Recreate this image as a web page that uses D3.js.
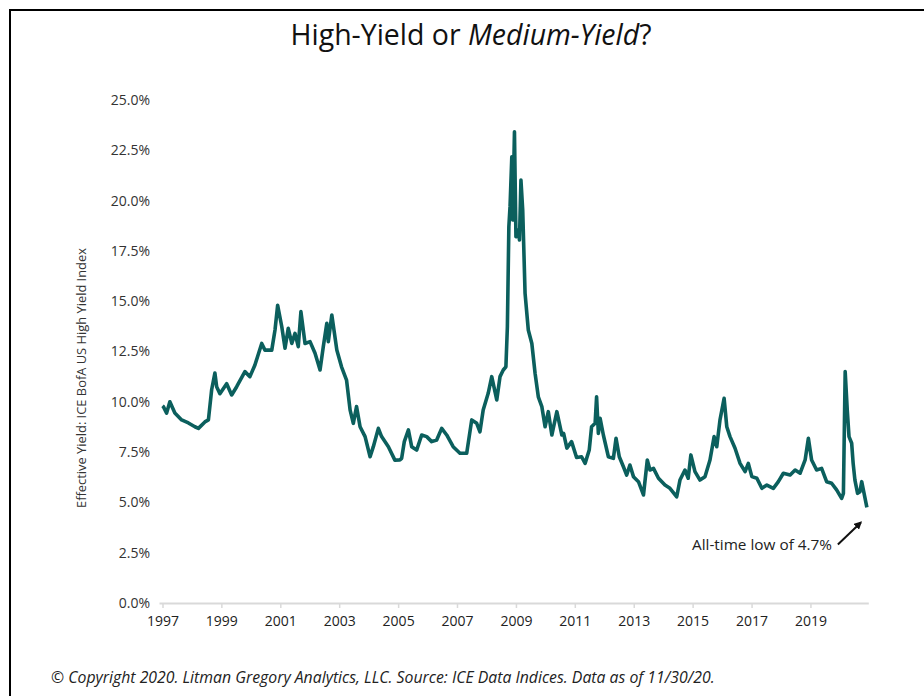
<!DOCTYPE html>
<html>
<head>
<meta charset="utf-8">
<script src="https://cdn.jsdelivr.net/npm/d3@7"></script>
<style>
  html, body { margin: 0; padding: 0; background: #fff; }
  svg { display: block; }
  text { font-family: "Open Sans", "Noto Sans", sans-serif; }
</style>
</head>
<body>
<svg id="chart" width="924" height="696"></svg>
<script>
// ---- Data ----
const years = [
  1997.00, 1997.03, 1997.14, 1997.25, 1997.42, 1997.65, 1997.88, 1998.10, 1998.22, 1998.44, 1998.56,
  1998.67, 1998.78, 1998.84, 1998.95, 1999.18, 1999.35, 1999.52, 1999.80, 1999.97, 2000.14,
  2000.37, 2000.48, 2000.71, 2000.82, 2000.91, 2001.05, 2001.16, 2001.27, 2001.39, 2001.50,
  2001.61, 2001.70, 2001.84, 2002.01, 2002.18, 2002.35, 2002.46, 2002.58, 2002.63, 2002.75,
  2002.92, 2003.08, 2003.25, 2003.37, 2003.48, 2003.59, 2003.71, 2003.88, 2004.05, 2004.16,
  2004.33, 2004.44, 2004.67, 2004.89, 2005.06, 2005.12, 2005.21, 2005.35, 2005.46, 2005.63,
  2005.80, 2005.97, 2006.14, 2006.31, 2006.48, 2006.65, 2006.87, 2007.10, 2007.33, 2007.50,
  2007.67, 2007.78, 2007.89, 2008.06, 2008.18, 2008.35, 2008.46, 2008.57, 2008.66, 2008.71,
  2008.76, 2008.80, 2008.86, 2008.89, 2008.95, 2009.00, 2009.08, 2009.12, 2009.17, 2009.23,
  2009.31, 2009.42, 2009.54, 2009.65, 2009.76, 2009.88, 2009.99, 2010.10, 2010.22, 2010.39,
  2010.56, 2010.62, 2010.73, 2010.89, 2011.06, 2011.23, 2011.35, 2011.49, 2011.57, 2011.69,
  2011.74, 2011.80, 2011.86, 2011.97, 2012.14, 2012.31, 2012.40, 2012.51, 2012.65, 2012.76,
  2012.87, 2012.99, 2013.16, 2013.33, 2013.46, 2013.55, 2013.67, 2013.84, 2014.06, 2014.23,
  2014.46, 2014.57, 2014.74, 2014.85, 2014.94, 2015.08, 2015.25, 2015.42, 2015.59, 2015.73,
  2015.82, 2015.93, 2016.07, 2016.16, 2016.27, 2016.44, 2016.61, 2016.78, 2016.89, 2017.01,
  2017.18, 2017.35, 2017.52, 2017.74, 2017.91, 2018.08, 2018.31, 2018.48, 2018.65, 2018.82,
  2018.93, 2019.04, 2019.21, 2019.38, 2019.55, 2019.72, 2019.89, 2020.06, 2020.12, 2020.18,
  2020.25, 2020.31, 2020.40, 2020.45, 2020.51, 2020.60, 2020.68, 2020.74, 2020.82, 2020.915
];
const yields = [
  9.80, 9.76, 9.44, 10.00, 9.44, 9.10, 8.95, 8.76, 8.68, 9.00, 9.10,
  10.60, 11.43, 10.75, 10.40, 10.90, 10.34, 10.75, 11.50, 11.25, 11.83,
  12.90, 12.57, 12.57, 13.57, 14.80, 13.73, 12.66, 13.65, 12.90, 13.40,
  12.74, 14.48, 12.90, 12.99, 12.41, 11.58, 12.74, 13.90, 12.99, 14.31,
  12.57, 11.74, 11.08, 9.60, 8.93, 9.76, 8.76, 8.27, 7.27, 7.77,
  8.68, 8.27, 7.77, 7.10, 7.11, 7.19, 8.02, 8.60, 7.77, 7.60,
  8.35, 8.27, 8.02, 8.10, 8.68, 8.35, 7.77, 7.44, 7.44, 9.10,
  8.93, 8.51, 9.59, 10.42, 11.25, 10.09, 11.25, 11.58, 11.74, 13.73,
  18.70, 19.70, 22.18, 19.04, 23.42, 18.20, 18.54, 18.04, 21.02, 19.53,
  15.39, 13.57, 12.90, 11.42, 10.25, 9.76, 8.76, 9.51, 8.35, 9.51,
  8.35, 8.43, 7.70, 8.02, 7.23, 7.27, 6.94, 7.60, 8.76, 8.93,
  10.25, 8.43, 9.18, 8.35, 7.27, 7.19, 8.19, 7.27, 6.77, 6.36,
  6.86, 6.28, 6.03, 5.37, 7.11, 6.61, 6.69, 6.20, 5.86, 5.70,
  5.28, 6.11, 6.61, 6.20, 7.36, 6.53, 6.11, 6.28, 7.11, 8.27,
  7.77, 9.10, 10.17, 8.76, 8.27, 7.69, 6.94, 6.53, 6.94, 6.28,
  6.20, 5.70, 5.86, 5.70, 6.03, 6.45, 6.36, 6.61, 6.45, 7.11,
  8.19, 7.11, 6.61, 6.69, 6.03, 5.95, 5.62, 5.20, 5.45, 11.50,
  9.60, 8.27, 7.94, 6.94, 6.11, 5.45, 5.53, 6.03, 5.45, 4.75
];
const yTicks = [0, 2.5, 5, 7.5, 10, 12.5, 15, 17.5, 20, 22.5, 25];
const xTickYears = [1997, 1999, 2001, 2003, 2005, 2007, 2009, 2011, 2013, 2015, 2017, 2019];

const titleParts = [
  { text: "High-Yield or ", italic: false },
  { text: "Medium-Yield", italic: true },
  { text: "?", italic: false }
];
const yAxisTitle = "Effective Yield: ICE BofA US High Yield Index";
const footer = "© Copyright 2020. Litman Gregory Analytics, LLC. Source: ICE Data Indices. Data as of 11/30/20.";
const annotationText = "All-time low of 4.7%";

// ---- Helpers ----
function yearToDate(y) {
  const yr = Math.floor(y);
  const start = new Date(yr, 0, 1), end = new Date(yr + 1, 0, 1);
  return new Date(start.getTime() + (y - yr) * (end - start));
}
// shrink/grow font so that the text fills the target width
function fitWidth(sel, target) {
  const node = sel.node();
  const fs = parseFloat(sel.attr("font-size"));
  const w = node.getComputedTextLength();
  if (w > 0) sel.attr("font-size", (fs * target / w).toFixed(2));
}
const data = years.map((y, i) => ({ date: yearToDate(y), value: yields[i] }));

const svg = d3.select("#chart");

// Frame
svg.append("path")
  .attr("d", "M10,700 L10,10 L926,10")
  .attr("fill", "none").attr("stroke", "#000").attr("stroke-width", 2);

// Scales
const x = d3.scaleTime()
  .domain([new Date(1997, 0, 1), new Date(2020, 10, 30)])
  .range([162.5, 866.8]);
const y = d3.scaleLinear().domain([0, 25]).range([603, 100]);

// Title
const title = svg.append("text")
  .attr("x", 471).attr("y", 45)
  .attr("text-anchor", "middle")
  .attr("font-size", 24).attr("fill", "#111");
titleParts.forEach(p => {
  title.append("tspan").text(p.text).attr("font-style", p.italic ? "italic" : "normal");
});
fitWidth(title, 361);

// Y axis (labels only)
const yAxis = d3.axisLeft(y).tickValues(yTicks)
  .tickFormat(d => d3.format(".1f")(d) + "%")
  .tickSize(0).tickPadding(0);
const gy = svg.append("g").attr("transform", "translate(150,0)").call(yAxis);
gy.select(".domain").remove();
gy.selectAll("text").attr("font-size", 14).attr("fill", "#333")
  .attr("font-family", "'Open Sans', 'Noto Sans', sans-serif");

// Y axis title
const yt = svg.append("text")
  .attr("transform", "translate(86,378) rotate(-90)")
  .attr("text-anchor", "middle")
  .attr("font-size", 11).attr("fill", "#333")
  .text(yAxisTitle);
fitWidth(yt, 260);

// X axis
const xAxis = d3.axisBottom(x)
  .tickValues(xTickYears.map(v => new Date(v, 0, 1)))
  .tickFormat(d3.timeFormat("%Y"))
  .tickSize(5).tickPadding(8);
const gx = svg.append("g").attr("transform", "translate(0,603)").call(xAxis);
gx.select(".domain")
  .attr("d", `M${x.range()[0] - 3},0.5H${x.range()[1] + 2}`)
  .attr("stroke", "#d9d9d9").attr("stroke-width", 2);
gx.selectAll(".tick line").attr("stroke", "#d9d9d9").attr("stroke-width", 1.5);
gx.selectAll("text").attr("font-size", 14).attr("fill", "#222")
  .attr("font-family", "'Open Sans', 'Noto Sans', sans-serif");

// Line
const line = d3.line().x(d => x(d.date)).y(d => y(d.value)).curve(d3.curveLinear);
svg.append("path").datum(data)
  .attr("d", line)
  .attr("fill", "none")
  .attr("stroke", "#0b5f5d")
  .attr("stroke-width", 3.6)
  .attr("stroke-linejoin", "round");

// Annotation
const last = data[data.length - 1];
svg.append("defs").append("marker")
  .attr("id", "arrow").attr("viewBox", "0 0 10 10")
  .attr("refX", 8).attr("refY", 5)
  .attr("markerWidth", 4).attr("markerHeight", 4)
  .attr("orient", "auto")
  .append("path").attr("d", "M0,0 L10,5 L0,10 z").attr("fill", "#111");
svg.append("line")
  .attr("x1", x(last.date) - 29).attr("y1", y(last.value) + 37)
  .attr("x2", x(last.date) - 6).attr("y2", y(last.value) + 15)
  .attr("stroke", "#111").attr("stroke-width", 2)
  .attr("marker-end", "url(#arrow)");
const ann = svg.append("text")
  .attr("x", 832).attr("y", 550)
  .attr("text-anchor", "end")
  .attr("font-size", 13).attr("fill", "#222")
  .text(annotationText);
fitWidth(ann, 140);

// Footer
const ft = svg.append("text")
  .attr("x", 51).attr("y", 683)
  .attr("font-size", 13.5).attr("font-style", "italic").attr("fill", "#222")
  .text(footer);
fitWidth(ft, 664);
</script>
</body>
</html>
